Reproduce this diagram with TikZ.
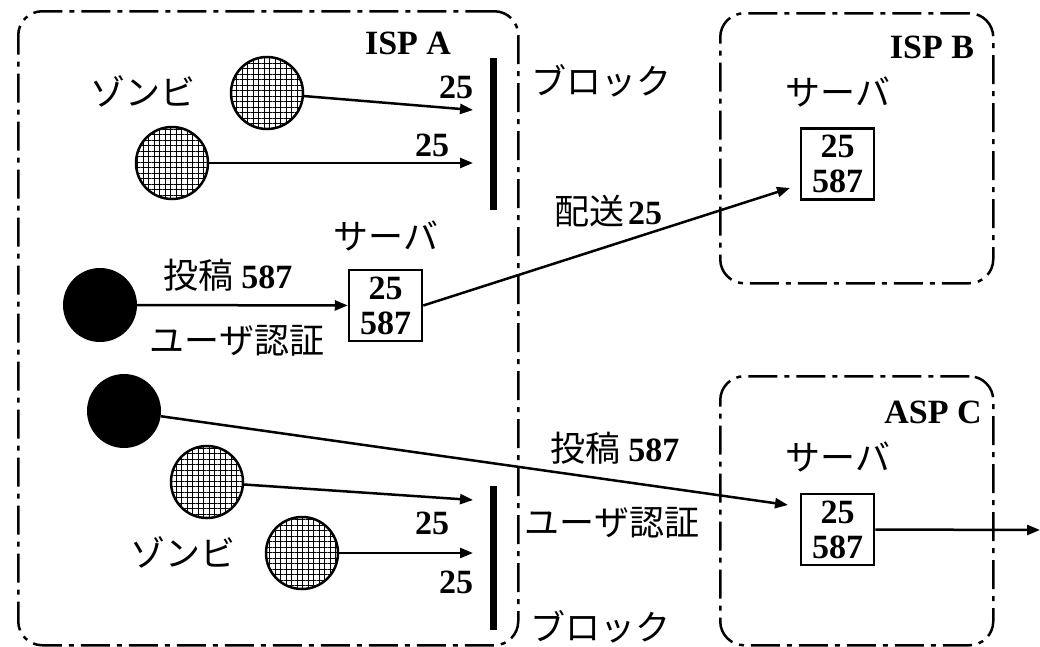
\documentclass[tikz,border=0pt]{standalone}
\usepackage{fontspec}
\setmainfont{Liberation Serif}
\newfontfamily\jp{Noto Sans CJK JP}
\usetikzlibrary{arrows.meta,patterns.meta}
\newcommand\numf{\normalfont\fontsize{34}{35}\selectfont\bfseries}
\tikzset{
 region/.style={draw, line width=2.5pt, rounded corners=24pt, dash pattern=on 29pt off 7pt on 5pt off 7pt, inner sep=0, anchor=north west},
 zombie/.style={circle, draw, line width=2.5pt, minimum size=72pt, inner sep=0, pattern={Hatch[angle=0,distance=5.5pt,line width=0.8pt]}},
 user/.style={circle, fill=black, minimum size=74pt, inner sep=0},
 server/.style={draw, line width=2.5pt, minimum width=73pt, minimum height=71pt, inner sep=0, align=center, font=\numf},
 num/.style={font=\numf, inner sep=0},
 jtxt/.style={font=\fontsize{35}{38}\selectfont\jp, inner sep=0},
 bar/.style={fill=black, minimum width=7pt, inner sep=0},
 arr/.style={line width=2.5pt, -{Triangle[length=13pt,width=10pt]}},
}
\begin{document}
\begin{tikzpicture}[x=1pt,y=-1pt]
\useasboundingbox (0,0) rectangle (1040,646);
% regions
\node[region, minimum width=500pt, minimum height=634pt] (ispA) at (17,10) {};
\node[region, minimum width=273pt, minimum height=270pt] (ispB) at (719,12) {};
\node[region, minimum width=273pt, minimum height=269pt] (aspC) at (719,375) {};
\node[num] (lA) at (408,43) {ISP A};
\node[num] (lB) at (932,47) {ISP B};
\node[num] (lC) at (933,412) {ASP C};
% block bars
\node[bar, minimum height=152pt] (bar1) at (493.5,134) {};
\node[bar, minimum height=144pt] (bar2) at (493.5,558) {};
\node[jtxt] (blk1) at (601,81) {ブロック};
\node[jtxt] (blk2) at (600,627) {ブロック};
% zombies
\node[zombie] (z1) at (267,93) {};
\node[zombie] (z2) at (172,163) {};
\node[zombie] (z3) at (207,482) {};
\node[zombie] (z4) at (302,553) {};
\node[jtxt] (zl1) at (143,91) {ゾンビ};
\node[jtxt] (zl2) at (183,552) {ゾンビ};
\coordinate (t1) at (473,110);
\coordinate (t2) at (473,163);
\coordinate (t3) at (473,500);
\coordinate (t4) at (473,553);
\draw[arr] (z1) -- (t1);
\draw[arr] (z2) -- (t2);
\draw[arr] (z3) -- (t3);
\draw[arr] (z4) -- (t4);
\node[num] (n1) at (456,87) {25};
\node[num] (n2) at (432,145) {25};
\node[num] (n3) at (432,523) {25};
\node[num] (n4) at (456,582) {25};
% users
\node[user] (u1) at (100,305) {};
\node[user] (u2) at (124,411) {};
% servers
\node[server] (sA) at (385.5,305.5) {25\\587};
\node[server] (sB) at (837.5,164) {25\\587};
\node[server] (sC) at (837.5,529.5) {25\\587};
\node[jtxt] (svA) at (386,236) {サーバ};
\node[jtxt] (svB) at (838,92) {サーバ};
\node[jtxt] (svC) at (838,457) {サーバ};
% labels
\node[jtxt] (p1) at (228,275) {投稿 {\numf 587}};
\node[jtxt] (a1) at (237,341) {ユーザ認証};
\node[jtxt] (d1) at (608,211) {配送\kern4pt{\numf 25}};
\node[jtxt] (p2) at (615,448) {投稿 {\numf 587}};
\node[jtxt] (a2) at (612,523) {ユーザ認証};
% connectors
\coordinate (cB) at (790,188);
\coordinate (cC) at (788,505);
\coordinate (out) at (1040,530);
\draw[arr] (u1) -- (sA);
\draw[arr] (sA.east) -- (cB);
\draw[arr] (u2) -- (cC);
\draw[arr] (sC.east) -- (out);
\end{tikzpicture}
\end{document}
